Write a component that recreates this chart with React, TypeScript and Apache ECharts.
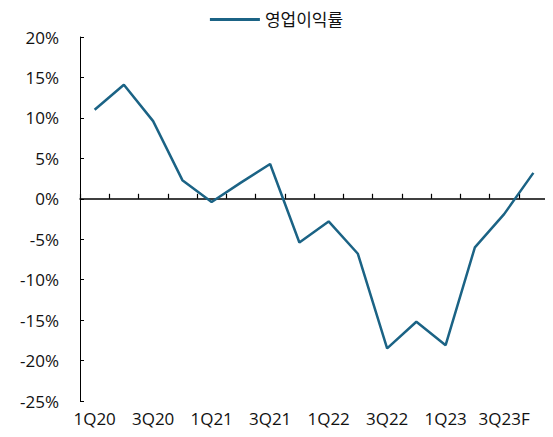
import React, { useEffect, useRef } from "react";
import * as echarts from "echarts";

const categories = ["1Q20","2Q20","3Q20","4Q20","1Q21","2Q21","3Q21","4Q21","1Q22","2Q22","3Q22","4Q22","1Q23","2Q23","3Q23F","4Q23F"];
const margin = [11.0, 14.1, 9.6, 2.3, -0.4, 2.0, 4.3, -5.4, -2.8, -6.8, -18.5, -15.2, -18.1, -6.0, -1.9, 3.2];
const seriesName = "영업이익률";

const FONT = "'Open Sans', 'Noto Sans CJK KR', sans-serif";

export default function App() {
  const ref = useRef<HTMLDivElement>(null);
  useEffect(() => {
    const chart = echarts.init(ref.current!, undefined, { renderer: "svg" });
    chart.setOption({
      animation: false,
      textStyle: { fontFamily: FONT },
      legend: {
        top: 6,
        left: "center",
        itemWidth: 50,
        itemHeight: 3,
        itemGap: 10,
        icon: "rect",
        textStyle: { fontSize: 17, color: "#111", fontFamily: FONT },
        data: [seriesName],
      },
      grid: { left: 80, right: 5, top: 37, bottom: 36 },
      xAxis: [
        {
          type: "category",
          data: categories,
          boundaryGap: true,
          axisLine: { show: false, onZero: false },
          axisTick: { show: false },
          axisLabel: { interval: 1, fontSize: 17, color: "#111", margin: 9, fontFamily: FONT },
        },
        {
          type: "category",
          data: categories,
          boundaryGap: true,
          position: "bottom",
          axisLine: { show: true, onZero: true, lineStyle: { color: "#000", width: 1.5 } },
          axisTick: { show: true, inside: true, interval: 0, length: 5, lineStyle: { color: "#000", width: 1.2 } },
          axisLabel: { show: true, interval: 0, formatter: () => "", fontSize: 1 },
        },
      ],
      yAxis: {
        type: "value",
        min: -25,
        max: 20,
        interval: 5,
        axisLine: { show: true, lineStyle: { color: "#000", width: 1 } },
        axisTick: { show: true, inside: true, length: 4, lineStyle: { color: "#000" } },
        splitLine: { show: false },
        axisLabel: { formatter: "{value}%", fontSize: 17, color: "#111", margin: 21, fontFamily: FONT },
      },
      series: [
        {
          name: seriesName,
          type: "line",
          xAxisIndex: 0,
          data: margin,
          symbol: "none",
          lineStyle: { color: "#1b6385", width: 2.5 },
          itemStyle: { color: "#1b6385" },
        },
      ],
    });
    return () => chart.dispose();
  }, []);
  return <div ref={ref} style={{ width: 553, height: 437, marginLeft: -8, marginTop: -8 }} />;
}
